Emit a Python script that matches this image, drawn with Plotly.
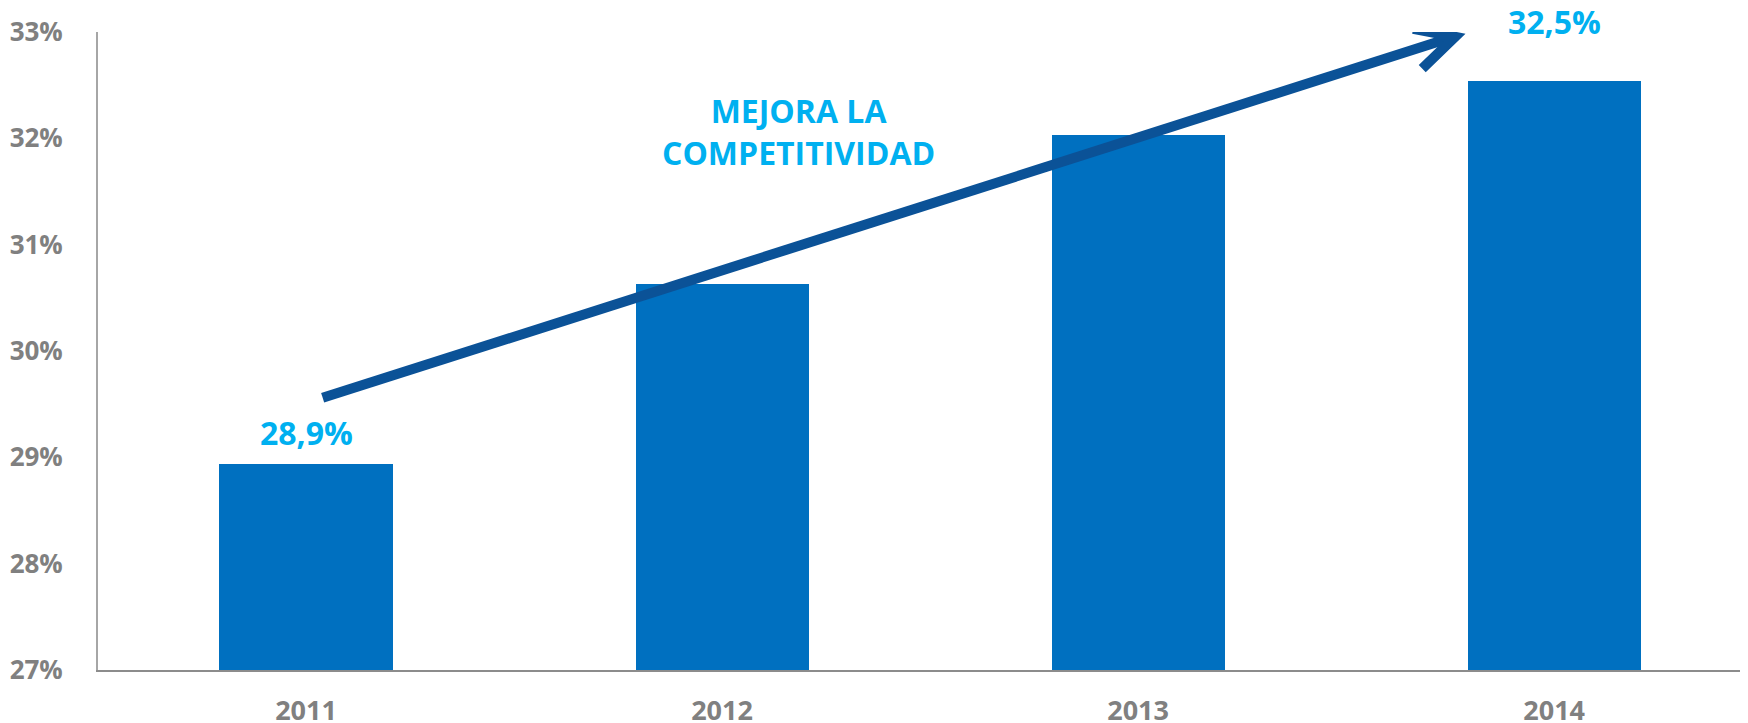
import plotly.graph_objects as go

years = ["2011", "2012", "2013", "2014"]
values = [28.94, 30.63, 32.03, 32.54]
labeled = [0, 3]
label_shift = [8, 36]
annotation_text = "MEJORA LA<br>COMPETITIVIDAD"

BAR = "#0070C0"
LABEL = "#00B0F0"
GRAY = "#808080"
ARROW = "#0B5297"
FONT = "Open Sans"
BASE = 26.97

fig = go.Figure()
fig.add_trace(go.Bar(
    x=list(range(len(years))), y=[v - BASE for v in values], base=BASE,
    marker=dict(color=BAR, line=dict(width=0)),
    width=0.416, hoverinfo="skip",
))

for i, s in zip(labeled, label_shift):
    fig.add_annotation(
        x=i, y=values[i], xref="x", yref="y",
        text=f"{values[i]:.1f}".replace(".", ",") + "%",
        showarrow=False, yanchor="bottom", yshift=s,
        font=dict(family=FONT, size=32, color=LABEL, weight="bold"),
    )

fig.add_annotation(
    x=1.183, y=32.06, xref="x", yref="y", text=annotation_text,
    showarrow=False, align="center", yanchor="middle",
    font=dict(family=FONT, size=32, color=LABEL, weight="bold"),
)

# arrow
fig.add_shape(type="line", xref="x", yref="y", x0=0.04, y0=29.56, x1=2.755, y1=32.95,
              line=dict(color=ARROW, width=10))
fig.add_shape(type="path", xref="x", yref="y",
              path="M 2.661 33.03 L 2.762 32.955 L 2.683 32.655",
              line=dict(color=ARROW, width=10))

# page body has an 8px margin: figure sized/offset to compensate
fig.update_layout(
    width=1740, height=715,
    margin=dict(l=90, r=0, t=24, b=53),
    paper_bgcolor="white", plot_bgcolor="white",
    showlegend=False, bargap=0,
    font=dict(family=FONT, color=GRAY),
    xaxis=dict(
        range=[-0.5, 3.466], tickmode="array", tickvals=list(range(len(years))),
        ticktext=years, showgrid=False, zeroline=False, automargin=False,
        showline=True, linecolor="#8C8C8C", linewidth=2,
        ticks="", ticklabelstandoff=16,
        tickfont=dict(family=FONT, size=27, color=GRAY, weight="bold"),
    ),
    yaxis=dict(
        range=[27, 33.0], dtick=1, tick0=27, ticksuffix="%",
        showgrid=False, zeroline=False, automargin=False,
        showline=True, linecolor="#A6A6A6", linewidth=2,
        ticks="", ticklabelstandoff=28,
        tickfont=dict(family=FONT, size=26, color=GRAY, weight="bold"),
    ),
)

fig.write_html("out.html")
